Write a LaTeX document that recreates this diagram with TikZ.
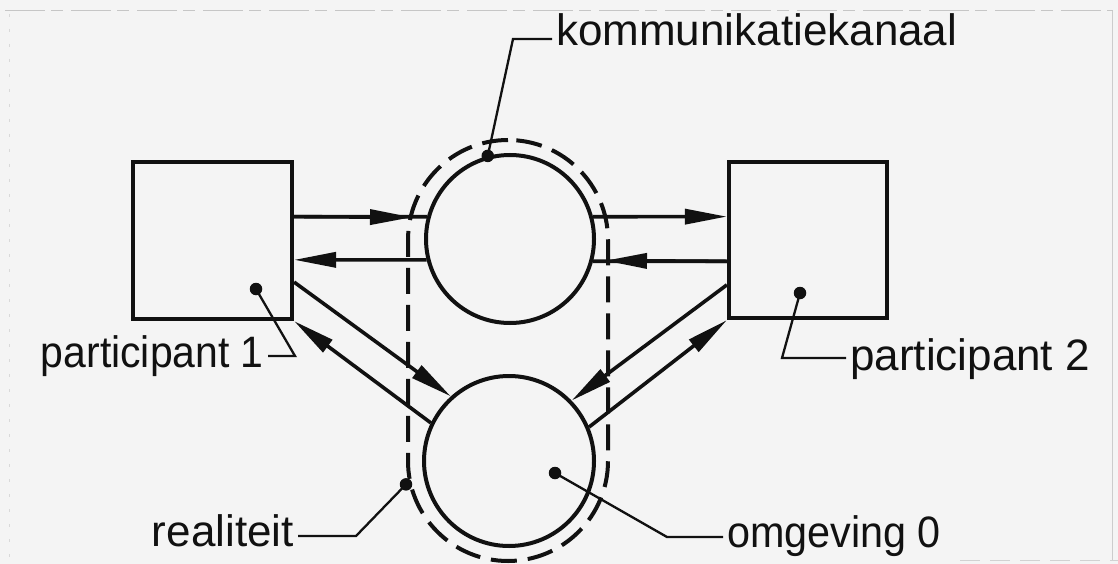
\documentclass[tikz,border=0pt]{standalone}
\usepackage{graphicx}
\usepackage{fontspec}
\setmainfont{Liberation Sans}
\usetikzlibrary{arrows.meta,calc}
\definecolor{paper}{HTML}{F4F4F4}
\definecolor{ink}{HTML}{111111}

\begin{document}
\begin{tikzpicture}[x=1pt,y=-1pt,
  boxnode/.style={draw=ink, line width=4.2pt, minimum width=159pt, minimum height=157pt, inner sep=0pt},
  ringnode/.style={circle, draw=ink, line width=4pt, inner sep=0pt},
  flowline/.style={draw=ink, line width=3.6pt},
  arrowed/.style={-{Triangle[length=42pt,width=15pt]}},
  leadline/.style={draw=ink, line width=2.3pt},
  blob/.style={circle, fill=ink, inner sep=0pt, minimum size=12.5pt},
  lbl/.style={font=\fontsize{44}{44}\selectfont, text=ink, inner ysep=0pt, inner xsep=4pt},
]
% paper and picture size
\fill[paper] (0,0) rectangle (1118,564);
\useasboundingbox (0,0) rectangle (1118,564);

% faint sheet edges
\draw[gray!45, line width=1pt, dash pattern=on 40pt off 6pt on 12pt off 8pt] (5,11) -- (1113,11);
\draw[gray!30, line width=1pt, dash pattern=on 3pt off 12pt] (9,14) -- (9,560);
\draw[gray!40, line width=1pt] (1112,11) -- (1112,560);
\draw[gray!35, line width=1pt, dash pattern=on 20pt off 10pt] (960,560) -- (1118,560);

% participants, channel and environment
\node[boxnode] (p1) at (212.5,240.5) {};
\node[boxnode, minimum width=158pt, minimum height=156pt] (p2) at (808,240) {};
\node[ringnode, minimum size=168pt] (kanaal) at (510,239) {};
\node[ringnode, minimum size=170pt] (omg) at (509,461) {};
\node[draw=ink, line width=4pt, dash pattern=on 26pt off 11pt, rounded corners=100pt,
      minimum width=200pt, minimum height=421pt, inner sep=0pt] (real) at (508,350.5) {};

% horizontal message flows
\coordinate (t1) at (412,217.3);
\coordinate (t2) at (605,260.7);
\draw[flowline] ($(p1.north east)!0.352!(p1.south east)$) -- (kanaal.165);
\draw[flowline, arrowed] ($(p1.north east)!0.352!(p1.south east)$) -- (t1);
\draw[flowline, arrowed] (kanaal.194) -- ($(p1.north east)!0.62!(p1.south east)$);
\draw[flowline, arrowed] (kanaal.15) -- ($(p2.north west)!0.354!(p2.south west)$);
\draw[flowline] ($(p2.north west)!0.633!(p2.south west)$) -- (kanaal.-15);
\draw[flowline, arrowed] ($(p2.north west)!0.633!(p2.south west)$) -- (t2);

% diagonal flows to and from the environment
\draw[flowline, arrowed] ($(p1.north east)!0.758!(p1.south east)$) -- (omg.132);
\draw[flowline, arrowed] (omg.154) -- (p1.south east);
\draw[flowline, arrowed] ($(p2.north west)!0.78!(p2.south west)$) -- (omg.44);
\draw[flowline, arrowed] (omg.23) -- (p2.south west);

% labels with leader lines
\node[blob] (d1) at (kanaal.105) {};
\coordinate (k1) at (513,39);
\node[lbl, anchor=base west] (lk) at (552,46) {kommunikatiekanaal};
\draw[leadline] (d1.center) -- (k1) -- (k1 -| lk.west);

\node[blob] (d2) at (256,289) {};
\coordinate (k2) at (295,356);
\node[lbl, anchor=base east] (lp1) at (268,367) {\scalebox{0.93}[1]{participant 1}};
\draw[leadline] (d2.center) -- (k2) -- (k2 -| lp1.east);

\node[blob] (d3) at (800,293) {};
\coordinate (k3) at (782,358);
\node[lbl, anchor=base west] (lp2) at (846,370) {participant 2};
\draw[leadline] (d3.center) -- (k3) -- (k3 -| lp2.west);

\node[blob] (d4) at ($(real.north west)!0.815!(real.south west)$) {};
\coordinate (k4) at (356,536);
\node[lbl, anchor=base east] (lr) at (298,546) {realiteit};
\draw[leadline] (d4.center) -- (k4) -- (k4 -| lr.east);

\node[blob] (d5) at (555,473) {};
\coordinate (k5) at (667,537);
\node[lbl, anchor=base west] (lo) at (723,547) {\scalebox{0.94}[1]{omgeving 0}};
\draw[leadline] (d5.center) -- (k5) -- (k5 -| lo.west);
\end{tikzpicture}
\end{document}
